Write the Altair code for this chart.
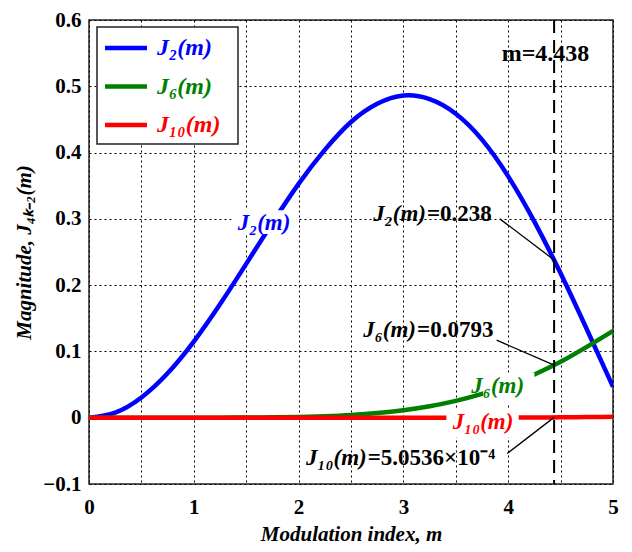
import altair as alt
import pandas as pd

# ---------------- data ----------------
m_values = [0.0, 0.25, 0.5, 0.75, 1.0, 1.25, 1.5, 1.75, 2.0, 2.25, 2.5,
            2.75, 3.0, 3.25, 3.5, 3.75, 4.0, 4.25, 4.5, 4.75, 5.0]
j2_values = [0.0, 0.0078, 0.0306, 0.0671, 0.1149, 0.1711, 0.2321, 0.2940,
             0.3528, 0.4040, 0.4461, 0.4736, 0.4861, 0.4806, 0.4586, 0.4195,
             0.3641, 0.2958, 0.2178, 0.1334, 0.0466]
j6_values = [0.0, 0.0, 0.0, 0.000004, 0.000021, 0.000078, 0.00023, 0.00056,
             0.00120, 0.00235, 0.00422, 0.00713, 0.01139, 0.01734, 0.02543,
             0.0359, 0.04909, 0.0652, 0.0843, 0.1069, 0.1310]
j10_values = [0.0, 0.0, 0.0, 0.0, 0.0, 0.0, 0.0, 0.0, 0.0, 0.0, 0.0000022,
              0.0000055, 0.0000129, 0.0000277, 0.000056, 0.000107, 0.000195,
              0.000340, 0.000573, 0.000920, 0.001468]

series_names = ["J₂(m)", "J₆(m)", "J₁₀(m)"]
series_colors = ["#0000FF", "#008000", "#FF0000"]
series_interp = ["natural", "monotone", "monotone"]

marker_m = 4.438
marker_label = "m=4.438"

x_ticks = [0, 0.5, 1, 1.5, 2, 2.5, 3, 3.5, 4, 4.5, 5]
y_ticks = [-0.1, 0, 0.1, 0.2, 0.3, 0.4, 0.5, 0.6]

# inline curve labels (centre) and the white boxes behind them
curve_label_m = [1.67, 3.90, 3.76]
curve_label_v = [0.294, 0.048, -0.007]
curve_box_m1 = [1.36, 3.76, 3.41]
curve_box_m2 = [2.00, 4.25, 4.10]
curve_box_v1 = [0.277, 0.021, -0.030]
curve_box_v2 = [0.313, 0.068, 0.013]

# value annotations at m = 4.438
annot_names = ["J₂(m)", "J₆(m)", "J₁₀(m)"]
annot_values = ["=0.238", "=0.0793", "=5.0536×10⁻⁴"]
annot_split_m = [3.225, 3.13, 2.66]
annot_v = [0.308, 0.132, -0.061]
leader_m1 = [3.92, 3.89, 3.99]
leader_v1 = [0.300, 0.117, -0.054]
leader_v2 = [0.238, 0.0793, 0.0005]

# ---------------- tables ----------------
curves = [pd.DataFrame({"m": m_values, "v": vals})
          for vals in (j2_values, j6_values, j10_values)]

boxes = pd.DataFrame({"m": curve_box_m1, "m2": curve_box_m2,
                      "v": curve_box_v1, "v2": curve_box_v2})
clabels = pd.DataFrame({"m": curve_label_m, "v": curve_label_v,
                        "label": series_names, "color": series_colors})
annots = pd.DataFrame({"m": annot_split_m, "v": annot_v,
                       "name": annot_names, "value": annot_values})
leaders = pd.DataFrame({"m": leader_m1, "v": leader_v1,
                        "m2": [marker_m] * 3, "v2": leader_v2})
marker = pd.DataFrame({"m": [marker_m]})
marker_text = pd.DataFrame({"m": [4.356], "v": [0.549], "label": [marker_label]})

FONT = "Liberation Serif"

x_enc = alt.X("m:Q", scale=alt.Scale(domain=[0, 5], nice=False),
              axis=alt.Axis(values=x_ticks, title="Modulation index, m",
                            labelExpr="datum.value % 1 == 0 ? format(datum.value, 'd') : ''",
                            labelFlush=False, labelPadding=12, titlePadding=6))
y_enc = alt.Y("v:Q", scale=alt.Scale(domain=[-0.1, 0.6], nice=False, zero=False),
              axis=alt.Axis(values=y_ticks, title="Magnitude, J₄ₖ₋₂(m)",
                            labelExpr="datum.value == 0 ? '0' : format(datum.value, '.1f')",
                            labelPadding=8, titlePadding=8))

layers = []
for i, df in enumerate(curves):
    enc_x = x_enc if i == 0 else alt.X("m:Q")
    enc_y = y_enc if i == 0 else alt.Y("v:Q")
    layers.append(
        alt.Chart(df).mark_line(color=series_colors[i], strokeWidth=4.5,
                                interpolate=series_interp[i], clip=True)
        .encode(x=enc_x, y=enc_y)
    )

layers.append(
    alt.Chart(marker).mark_rule(color="black", strokeWidth=2, strokeDash=[13, 7])
    .encode(x="m:Q")
)
layers.append(
    alt.Chart(leaders).mark_rule(color="black", strokeWidth=1.3)
    .encode(x="m:Q", y="v:Q", x2="m2:Q", y2="v2:Q")
)
layers.append(
    alt.Chart(boxes).mark_rect(color="white")
    .encode(x="m:Q", x2="m2:Q", y="v:Q", y2="v2:Q")
)
layers.append(
    alt.Chart(clabels).mark_text(font=FONT, fontSize=23, fontWeight="bold",
                                 fontStyle="italic", baseline="middle")
    .encode(x="m:Q", y="v:Q", text="label:N",
            color=alt.Color("color:N", scale=None))
)
layers.append(
    alt.Chart(annots).mark_text(font=FONT, fontSize=23, fontWeight="bold",
                                fontStyle="italic", align="right",
                                baseline="middle", color="black", dx=-1)
    .encode(x="m:Q", y="v:Q", text="name:N")
)
layers.append(
    alt.Chart(annots).mark_text(font=FONT, fontSize=23, fontWeight="bold",
                                align="left", baseline="middle", color="black")
    .encode(x="m:Q", y="v:Q", text="value:N")
)
layers.append(
    alt.Chart(marker_text).mark_text(font=FONT, fontSize=24, fontWeight="bold",
                                     baseline="middle", color="black")
    .encode(x="m:Q", y="v:Q", text="label:N")
)

# legend box (drawn in pixel space)
layers.append(
    alt.Chart(marker).mark_rect(fill="white", stroke="#222", strokeWidth=1.5)
    .encode(x=alt.value(8), x2=alt.value(149), y=alt.value(7), y2=alt.value(124))
)
for i, (name, col) in enumerate(zip(series_names, series_colors)):
    yy = 28 + 38.5 * i
    layers.append(
        alt.Chart(marker).mark_rule(color=col, strokeWidth=4.5)
        .encode(x=alt.value(16), x2=alt.value(58), y=alt.value(yy))
    )
    layers.append(
        alt.Chart(marker).mark_text(font=FONT, fontSize=24, fontWeight="bold",
                                    fontStyle="italic", align="left",
                                    baseline="middle", color=col, text=name)
        .encode(x=alt.value(68), y=alt.value(yy))
    )

chart = (
    alt.layer(*layers)
    .properties(width=524, height=464,
                padding={"left": 81, "top": 12, "right": 10, "bottom": 66},
                autosize=alt.AutoSizeParams(type="none"))
    .configure_view(stroke="#222", strokeWidth=1.5)
    .configure_axis(labelFont=FONT, labelFontSize=21, labelFontWeight="bold",
                    labelColor="black", titleFont=FONT, titleFontSize=21,
                    titleFontWeight="bold", titleFontStyle="italic",
                    titleColor="black", gridColor="black", gridDash=[2, 3],
                    gridOpacity=1, gridWidth=1, domain=False, ticks=False)
)

chart.save("out.html", embed_options={"renderer": "svg", "actions": False})
